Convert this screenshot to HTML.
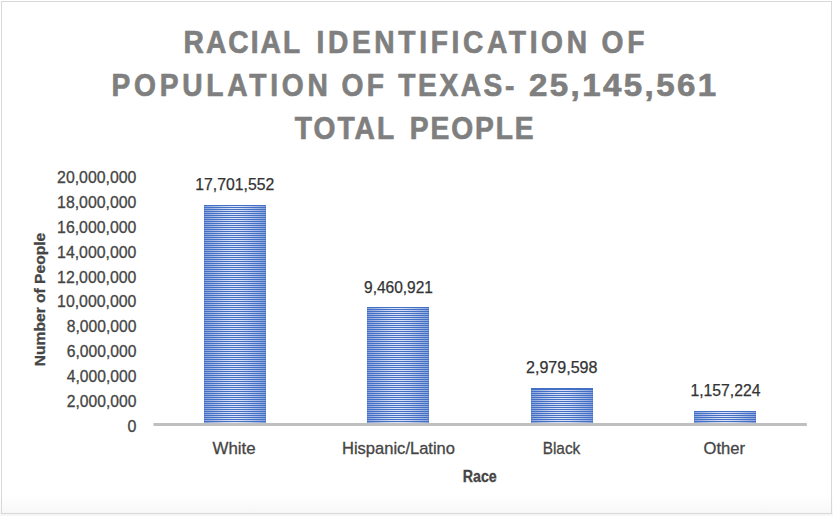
<!DOCTYPE html>
<html lang="en">
<head>
<meta charset="utf-8">
<title>Racial Identification of Population of Texas</title>
<style>
  html, body { margin: 0; padding: 0; background: #ffffff; }
  body { width: 833px; height: 516px; overflow: hidden; position: relative; }
  svg { position: absolute; left: 0; top: 0; display: block; }
  text { font-family: "Liberation Sans", "DejaVu Sans", sans-serif; }
  .title { font-weight: bold; font-size: 31.3px; fill: #7f7f7f; stroke: #7f7f7f; stroke-width: 0.7px; }
  .ylab  { font-size: 16px; fill: #454545; stroke: #454545; stroke-width: 0.3px; }
  .dlab  { font-size: 15.7px; fill: #333333; stroke: #333333; stroke-width: 0.25px; }
  .clab  { font-size: 16.3px; fill: #454545; stroke: #454545; stroke-width: 0.3px; }
  .atitle{ font-weight: bold; font-size: 16px; fill: #454545; stroke: #454545; stroke-width: 0.3px; }
</style>
</head>
<body>
<svg width="833" height="516" viewBox="0 0 833 516">
  <defs>
    <linearGradient id="pagebg" x1="0" y1="0" x2="0" y2="1">
      <stop offset="0" stop-color="#ffffff"/>
      <stop offset="0.96" stop-color="#ffffff"/>
      <stop offset="1" stop-color="#f6f6f6"/>
    </linearGradient>
    <linearGradient id="barlight" x1="0" y1="0" x2="1" y2="0">
      <stop offset="0" stop-color="#8aa3dc"/>
      <stop offset="0.1" stop-color="#9db2e2"/>
      <stop offset="0.2" stop-color="#b1c2e8"/>
      <stop offset="0.3" stop-color="#c6d2ee"/>
      <stop offset="0.42" stop-color="#d9e0f4"/>
      <stop offset="0.5" stop-color="#dfe5f6"/>
      <stop offset="0.58" stop-color="#d9e0f4"/>
      <stop offset="0.7" stop-color="#c6d2ee"/>
      <stop offset="0.8" stop-color="#b1c2e8"/>
      <stop offset="0.9" stop-color="#9db2e2"/>
      <stop offset="1" stop-color="#8aa3dc"/>
    </linearGradient>
    <pattern id="stripes" x="0" y="1" width="4" height="2" patternUnits="userSpaceOnUse">
      <rect x="0" y="0" width="4" height="1" fill="#4370c4"/>
    </pattern>
  </defs>

  <!-- page / chart frame -->
  <rect x="0" y="0" width="833" height="516" fill="url(#pagebg)"/>
  <rect x="1.5" y="1.5" width="830" height="512" fill="none" stroke="#d8d8d8" stroke-width="1"/>

  <!-- chart title -->
  <text class="title" transform="translate(0 53.1) scale(0.9 1)" y="0"><tspan x="203.89" textLength="129.67" lengthAdjust="spacing">RACIAL</tspan> <tspan x="351.67" textLength="300.56" lengthAdjust="spacing">IDENTIFICATION</tspan> <tspan x="668.22" textLength="47.72" lengthAdjust="spacing">OF</tspan></text>
  <text class="title" transform="translate(0 96.1) scale(0.9 1)" y="0"><tspan x="123.89" textLength="240.28" lengthAdjust="spacing">POPULATION</tspan> <tspan x="379.33" textLength="47.17" lengthAdjust="spacing">OF</tspan> <tspan x="442.56" textLength="128.94" lengthAdjust="spacing">TEXAS-</tspan> <tspan x="587.67" textLength="210.83" lengthAdjust="spacingAndGlyphs" letter-spacing="2.3">25,145,561</tspan></text>
  <text class="title" transform="translate(0 138.9) scale(0.9 1)" y="0"><tspan x="327.56" textLength="110.44" lengthAdjust="spacing">TOTAL</tspan> <tspan x="455.28" textLength="137.61" lengthAdjust="spacing">PEOPLE</tspan></text>

  <!-- y axis tick labels -->
  <g class="ylab" text-anchor="end">
    <text x="136.4" y="182.90" textLength="79.3" lengthAdjust="spacingAndGlyphs">20,000,000</text>
    <text x="136.4" y="207.80" textLength="79.3" lengthAdjust="spacingAndGlyphs">18,000,000</text>
    <text x="136.4" y="232.70" textLength="79.3" lengthAdjust="spacingAndGlyphs">16,000,000</text>
    <text x="136.4" y="257.60" textLength="79.3" lengthAdjust="spacingAndGlyphs">14,000,000</text>
    <text x="136.4" y="282.50" textLength="79.3" lengthAdjust="spacingAndGlyphs">12,000,000</text>
    <text x="136.4" y="307.40" textLength="79.3" lengthAdjust="spacingAndGlyphs">10,000,000</text>
    <text x="136.4" y="332.30" textLength="69.6" lengthAdjust="spacingAndGlyphs">8,000,000</text>
    <text x="136.4" y="357.20" textLength="69.6" lengthAdjust="spacingAndGlyphs">6,000,000</text>
    <text x="136.4" y="382.10" textLength="69.6" lengthAdjust="spacingAndGlyphs">4,000,000</text>
    <text x="136.4" y="407.00" textLength="69.6" lengthAdjust="spacingAndGlyphs">2,000,000</text>
    <text x="136.4" y="431.90">0</text>
  </g>

  <!-- y axis title -->
  <text class="atitle" style="font-size:15.2px" transform="translate(45.3 366.2) rotate(-90)" x="0" y="0" textLength="133.4" lengthAdjust="spacingAndGlyphs">Number of People</text>

  <!-- bars -->
  <g>
    <rect x="204" y="205" width="62" height="220" fill="url(#barlight)"/>
    <rect x="204" y="205" width="62" height="220" fill="url(#stripes)"/>
    <rect x="204" y="205" width="62" height="1" fill="#4370c4"/>
    <path d="M204.5 425V206M265.5 425V206" fill="none" stroke="#4370c4" stroke-opacity="0.3" stroke-width="1"/>
    <rect x="367" y="307" width="62" height="118" fill="url(#barlight)"/>
    <rect x="367" y="307" width="62" height="118" fill="url(#stripes)"/>
    <rect x="367" y="307" width="62" height="1" fill="#4370c4"/>
    <path d="M367.5 425V308M428.5 425V308" fill="none" stroke="#4370c4" stroke-opacity="0.3" stroke-width="1"/>
    <rect x="531" y="388" width="62" height="37" fill="url(#barlight)"/>
    <rect x="531" y="388" width="62" height="37" fill="url(#stripes)"/>
    <rect x="531" y="388" width="62" height="1" fill="#4370c4"/>
    <path d="M531.5 425V389M592.5 425V389" fill="none" stroke="#4370c4" stroke-opacity="0.3" stroke-width="1"/>
    <rect x="694" y="411" width="62" height="14" fill="url(#barlight)"/>
    <rect x="694" y="411" width="62" height="14" fill="url(#stripes)"/>
    <rect x="694" y="411" width="62" height="1" fill="#4370c4"/>
    <path d="M694.5 425V412M755.5 425V412" fill="none" stroke="#4370c4" stroke-opacity="0.3" stroke-width="1"/>
  </g>

  <!-- x axis line -->
  <rect x="153.5" y="423" width="653.3" height="3" fill="#bfbfbf"/>

  <!-- data labels -->
  <g class="dlab" text-anchor="middle">
    <text x="234.75" y="190" textLength="79" lengthAdjust="spacingAndGlyphs">17,701,552</text>
    <text x="398.5" y="293" textLength="69" lengthAdjust="spacingAndGlyphs">9,460,921</text>
    <text x="561.75" y="372.5" textLength="71.5" lengthAdjust="spacingAndGlyphs">2,979,598</text>
    <text x="725.5" y="396" textLength="70" lengthAdjust="spacingAndGlyphs">1,157,224</text>
  </g>

  <!-- category labels -->
  <g class="clab" text-anchor="middle">
    <text x="234.1" y="453.75" textLength="43.1" lengthAdjust="spacingAndGlyphs">White</text>
    <text x="398.5" y="453.75" textLength="113" lengthAdjust="spacingAndGlyphs">Hispanic/Latino</text>
    <text x="561.5" y="453.75" textLength="37.6" lengthAdjust="spacingAndGlyphs">Black</text>
    <text x="724.25" y="453.75" textLength="41.5" lengthAdjust="spacingAndGlyphs">Other</text>
  </g>

  <!-- x axis title -->
  <text class="atitle" x="479.75" y="481.75" text-anchor="middle" textLength="34" lengthAdjust="spacingAndGlyphs">Race</text>
</svg>
</body>
</html>
